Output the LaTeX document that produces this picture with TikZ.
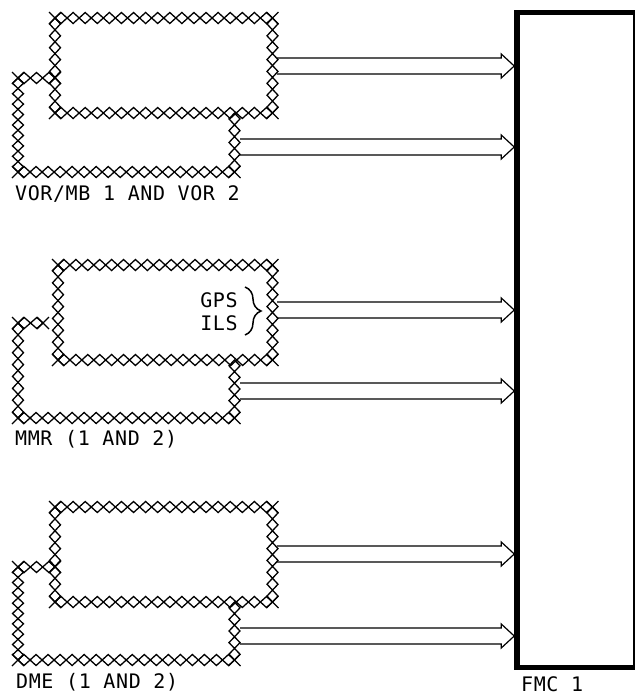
\documentclass[tikz,border=0pt]{standalone}
\usepackage{fontspec}
\setmonofont[LetterSpace=3]{DejaVu Sans Mono}
\usetikzlibrary{calc, decorations.pathreplacing}

\tikzset{
    hatchline/.style={line width=1.3pt, line join=miter},
    sigline/.style={line width=1.2pt, line join=miter},
    lbl/.style={font=\ttfamily\fontsize{20}{20}\selectfont, inner sep=0pt},
}

% corrente de losangos entre dois pontos
\newcommand{\hatchrun}[3]{
    \foreach \k in {1,...,#3}{
        \pgfmathsetmacro{\ta}{(\k-1)/#3}
        \pgfmathsetmacro{\tm}{(\k-0.5)/#3}
        \pgfmathsetmacro{\tb}{\k/#3}
        \draw[hatchline] ($(#1)!\ta!(#2)$) -- ($(#1)!\tm!(#2)!5.5pt!90:(#2)$) -- ($(#1)!\tb!(#2)$) -- ($(#1)!\tm!(#2)!5.5pt!-90:(#2)$) -- cycle;
    }
}
% X nos cantos
\newcommand{\hatchcap}[1]{
    \draw[hatchline] ($(#1)+(-6,-6)$) -- ($(#1)+(6,6)$);
    \draw[hatchline] ($(#1)+(-6,6)$) -- ($(#1)+(6,-6)$);
}
% seta dupla aberta
\newcommand{\sigarrow}[2]{
    \draw[sigline] ($(#1)+(0,-8)$) -- ($(#2)+(-13,-8)$) -- ($(#2)+(-13,-12)$) -- (#2) -- ($(#2)+(-13,12)$) -- ($(#2)+(-13,8)$) -- ($(#1)+(0,8)$);
}
% par de caixas ligadas
\newcommand{\boxpair}[8]{
    \coordinate (#1a) at (#5,#2);
    \coordinate (#1b) at (272.5,#2);
    \coordinate (#1c) at (272.5,#2+95);
    \coordinate (#1d) at (#5,#2+95);
    \coordinate (#1e) at (#6,#3);
    \coordinate (#1f) at (18,#3);
    \coordinate (#1g) at (18,#4);
    \coordinate (#1h) at (234.5,#4);
    \coordinate (#1i) at (234.5,#2+95);
    \hatchrun{#1a}{#1b}{18}
    \hatchrun{#1b}{#1c}{8}
    \hatchrun{#1c}{#1d}{18}
    \hatchrun{#1d}{#1a}{8}
    \hatchrun{#1e}{#1f}{#7}
    \hatchrun{#1f}{#1g}{#8}
    \hatchrun{#1g}{#1h}{18}
    \hatchrun{#1h}{#1i}{5}
    \foreach \c in {a,b,c,d,e,f,g,h}{\hatchcap{#1\c}}
}

\begin{document}
\begin{tikzpicture}[x=1pt, y=-1pt]
    \useasboundingbox (0,0) rectangle (635,694);

    % FMC
    \node[draw, line width=5.5pt, minimum width=119pt, minimum height=655pt, inner sep=0pt] (fmc) at (576.5,340) {};
    \node[lbl, anchor=base west] (fmclbl) at (521,691.5) {FMC 1};

    % VOR
    \boxpair{vor}{18}{78}{172}{55}{55}{3}{9}
    \node[lbl, anchor=base west] (vorlbl) at (15,200) {VOR/MB 1 AND VOR 2};
    \coordinate (vorA) at (277,66);
    \coordinate (vorB) at (240,147);
    \coordinate (vorAt) at (fmc.west |- vorA);
    \coordinate (vorBt) at (fmc.west |- vorB);
    \sigarrow{vorA}{vorAt}
    \sigarrow{vorB}{vorBt}

    % MMR
    \boxpair{mmr}{265}{323}{418}{58}{43}{2}{8}
    \node[lbl, anchor=base west] (mmrlbl) at (15,445) {MMR (1 AND 2)};
    \node[lbl, anchor=base] (gps) at (219,307) {GPS};
    \node[lbl, anchor=base] (ils) at (219,330) {ILS};
    \draw[line width=1.5pt, decorate, decoration={brace, amplitude=16pt}] (245,287) -- (245,335);
    \coordinate (mmrA) at (277,310);
    \coordinate (mmrB) at (240,391);
    \coordinate (mmrAt) at (fmc.west |- mmrA);
    \coordinate (mmrBt) at (fmc.west |- mmrB);
    \sigarrow{mmrA}{mmrAt}
    \sigarrow{mmrB}{mmrBt}

    % DME
    \boxpair{dme}{507}{567}{660}{55}{55}{3}{9}
    \node[lbl, anchor=base west] (dmelbl) at (16,688) {DME (1 AND 2)};
    \coordinate (dmeA) at (277,554);
    \coordinate (dmeB) at (240,636);
    \coordinate (dmeAt) at (fmc.west |- dmeA);
    \coordinate (dmeBt) at (fmc.west |- dmeB);
    \sigarrow{dmeA}{dmeAt}
    \sigarrow{dmeB}{dmeBt}
\end{tikzpicture}
\end{document}
